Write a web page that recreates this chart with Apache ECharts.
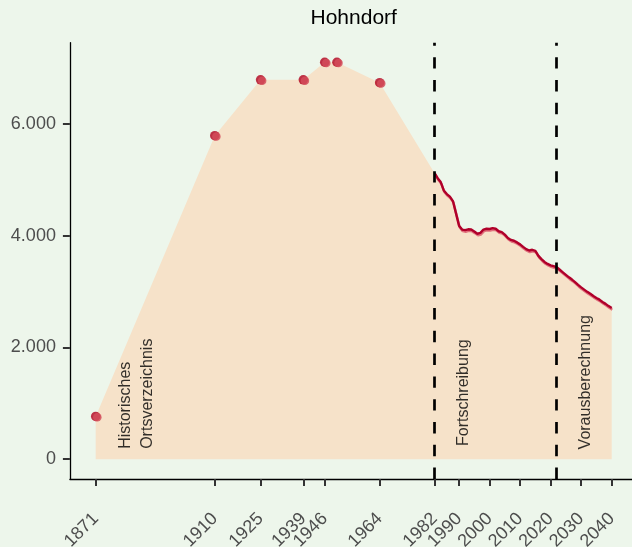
<!DOCTYPE html>
<html>
<head>
<meta charset="utf-8">
<script src="https://cdn.jsdelivr.net/npm/echarts@6/dist/echarts.min.js"></script>
<style>
html,body{margin:0;padding:0;background:#edf6eb;}
#chart{width:632px;height:547px;}
</style>
</head>
<body>
<div id="chart"></div>
<script>
// ---- data ----
const titleText = 'Hohndorf';
const histYears = [1871, 1910, 1925, 1939, 1946, 1950, 1964];
const histValues = [765, 5790, 6790, 6790, 7105, 7105, 6740];
const seriesYears = [1982, 1983, 1984, 1985, 1986, 1987, 1988, 1989, 1990, 1991,
  1992, 1993, 1994, 1995, 1996, 1997, 1998, 1999, 2000, 2001,
  2002, 2003, 2004, 2005, 2006, 2007, 2008, 2009, 2010, 2011,
  2012, 2013, 2014, 2015, 2016, 2017, 2018, 2019, 2020, 2021,
  2022, 2023, 2024, 2025, 2026, 2027, 2028, 2029, 2030, 2031,
  2032, 2033, 2034, 2035, 2036, 2037, 2038, 2039, 2040];
const seriesValues = [5120, 5030, 4960, 4810, 4745, 4700, 4620, 4400, 4180, 4110,
  4100, 4115, 4110, 4075, 4035, 4050, 4110, 4125, 4120, 4135,
  4125, 4080, 4065, 4020, 3960, 3925, 3910, 3880, 3845, 3800,
  3760, 3735, 3748, 3730, 3640, 3580, 3530, 3495, 3470, 3455,
  3435, 3390, 3345, 3300, 3255, 3215, 3170, 3120, 3075, 3035,
  2995, 2960, 2920, 2885, 2855, 2815, 2780, 2740, 2705];
const xTickYears = [1871, 1910, 1925, 1939, 1946, 1964, 1982, 1990, 2000, 2010, 2020, 2030, 2040];
const yTickValues = [0, 2000, 4000, 6000];
const periodBreaks = [1982, 2022];
const periodLabels = ['Historisches\nOrtsverzeichnis', 'Fortschreibung', 'Vorausberechnung'];
const periodLabelYears = [1884.5, 1991.4, 2031.4];
const periodLabelValues = [185, 235, 175];

// ---- build ----
const histData = histYears.map((y, i) => [y, histValues[i]]);
const lineData = seriesYears.map((y, i) => [y, seriesValues[i]]);
const areaData = histData.concat(lineData);
const labelData = periodLabels.map((t, i) => ({ value: [periodLabelYears[i], periodLabelValues[i]], name: t }));

const FONT = 'Liberation Sans, Arial, sans-serif';
const fmtDE = v => String(v).replace(/\B(?=(\d{3})+(?!\d))/g, '.');

const chart = echarts.init(document.getElementById('chart'), null, { renderer: 'canvas' });
chart.setOption({
  animation: false,
  backgroundColor: '#edf6eb',
  textStyle: { fontFamily: FONT },
  grid: { left: 69.9, right: -5.5, top: 42.7, bottom: 68, containLabel: false, outerBoundsMode: 'none' },
  graphic: [{
    type: 'text', x: 353.7, y: 18.5,
    style: { text: titleText, fontFamily: FONT, fontSize: 21, fill: '#000', align: 'center', verticalAlign: 'middle' }
  }],
  xAxis: {
    type: 'value', min: 1862.55, max: 2048.45,
    splitLine: { show: false },
    axisLine: { show: true, onZero: false, lineStyle: { color: '#000', width: 1.3 } },
    axisTick: { show: true, customValues: xTickYears, length: 7, lineStyle: { color: '#333', width: 2 } },
    axisLabel: {
      show: true, customValues: xTickYears, rotate: 45, align: 'right', verticalAlign: 'middle',
      margin: 37, fontSize: 18, color: '#4d4d4d', fontFamily: FONT,
      formatter: v => String(v), hideOverlap: false
    }
  },
  yAxis: {
    type: 'value', min: -355, max: 7455,
    splitLine: { show: false },
    axisLine: { show: true, onZero: false, lineStyle: { color: '#000', width: 1.3 } },
    axisTick: { show: true, customValues: yTickValues, length: 7, lineStyle: { color: '#333', width: 2 } },
    axisLabel: {
      show: true, customValues: yTickValues, margin: 14, fontSize: 18, color: '#4d4d4d', fontFamily: FONT,
      formatter: v => fmtDE(v)
    }
  },
  series: [
    {
      type: 'line', data: areaData, symbol: 'none', z: 1, silent: true,
      lineStyle: { width: 0, opacity: 0 },
      areaStyle: { color: '#f6e2c9', opacity: 1, origin: 'auto' },
      markLine: {
        silent: true, symbol: 'none', animation: false,
        label: { show: false },
        lineStyle: { color: '#000', width: 2.7, type: [11.4, 11.4] },
        emphasis: { disabled: true },
        data: periodBreaks.map(y => ({ xAxis: y }))
      }
    },
    {
      type: 'line', data: lineData, symbol: 'none', z: 3, silent: true,
      lineStyle: { color: '#b0002a', width: 2.4, shadowColor: '#e0707c', shadowBlur: 0, shadowOffsetX: 0.6, shadowOffsetY: 1.6 }
    },
    {
      type: 'scatter', data: histData, symbol: 'circle', symbolSize: 9.5, z: 4, silent: true,
      itemStyle: { color: '#b0001c' }
    },
    {
      type: 'scatter', data: histData, symbol: 'circle', symbolSize: 8.5, z: 5, silent: true,
      symbolOffset: [1.6, 0.8],
      itemStyle: { color: '#d44c5a', opacity: 0.85 }
    },
    {
      type: 'scatter', data: labelData, symbolSize: 1, z: 6, silent: true,
      itemStyle: { color: 'rgba(0,0,0,0)' },
      label: {
        show: true, position: 'inside', rotate: 90, align: 'left', verticalAlign: 'middle',
        fontFamily: FONT, fontSize: 16, lineHeight: 22, color: '#000',
        formatter: p => p.name
      }
    }
  ]
});
</script>
</body>
</html>
